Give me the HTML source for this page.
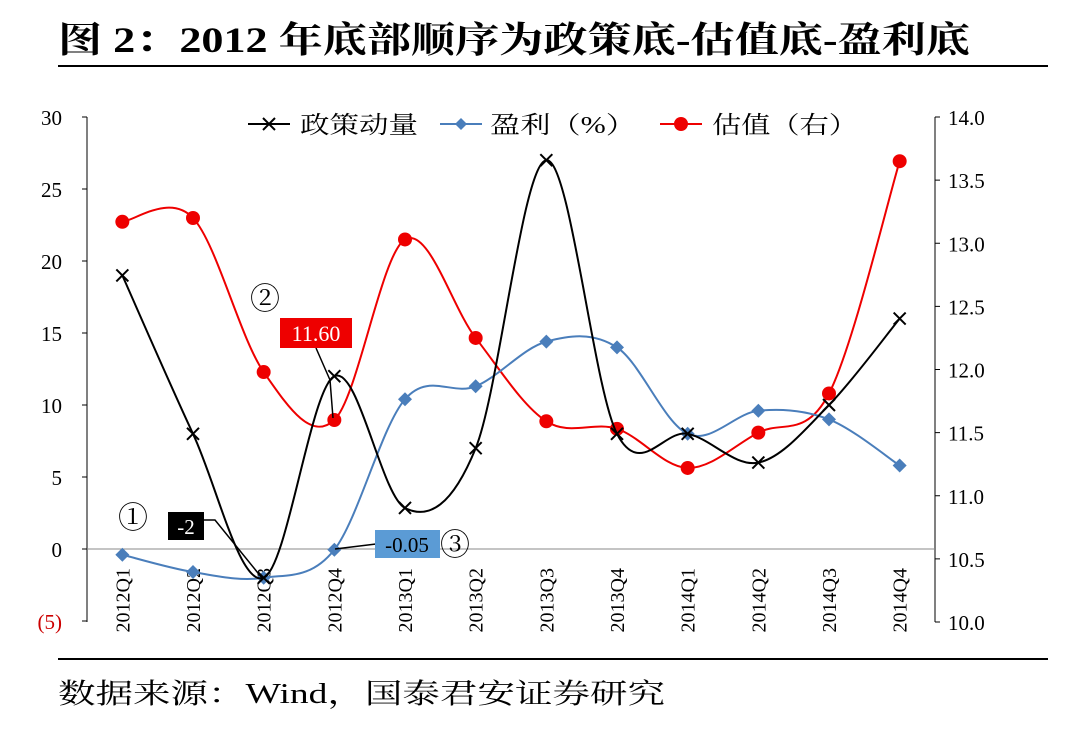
<!DOCTYPE html>
<html><head><meta charset="utf-8"><style>
body{margin:0;background:#fff;}
svg{display:block;font-family:"Liberation Serif","Noto Serif CJK SC",serif;}
</style></head><body>
<svg width="1080" height="737" viewBox="0 0 1080 737">
<text x="58" y="52" font-size="36" font-weight="bold" textLength="912" lengthAdjust="spacingAndGlyphs">图 2：2012 年底部顺序为政策底-估值底-盈利底</text>
<line x1="58" y1="66" x2="1048" y2="66" stroke="#000" stroke-width="2"/>
<line x1="58" y1="659" x2="1048" y2="659" stroke="#000" stroke-width="2"/>
<text x="58" y="703" font-size="28" textLength="607" lengthAdjust="spacingAndGlyphs">数据来源：Wind，国泰君安证券研究</text>
<g id="axes"></g>
<g id="series"></g>
<g>
<g><line x1="248" y1="124" x2="290" y2="124" stroke="#000" stroke-width="2"/><path d="M263 118l12 12M275 118l-12 12" stroke="#000" stroke-width="2"/><text x="300" y="133" font-size="24" textLength="118" lengthAdjust="spacingAndGlyphs">政策动量</text></g>
<g><line x1="440" y1="124" x2="482" y2="124" stroke="#4a7ebb" stroke-width="2"/><path d="M461 118l6 6-6 6-6-6z" fill="#4a7ebb"/><text x="490" y="133" font-size="24" textLength="146" lengthAdjust="spacingAndGlyphs">盈利（%）</text></g>
<g><line x1="660" y1="124" x2="702" y2="124" stroke="#e00" stroke-width="2"/><circle cx="681" cy="124" r="7" fill="#e00"/><text x="712" y="133" font-size="24" textLength="146" lengthAdjust="spacingAndGlyphs">估值（右）</text></g>
</g>
<g>
<text x="118" y="528" font-size="30">①</text>
<polyline points="204,520 215,520 262,578" fill="none" stroke="#000" stroke-width="1.5"/>
<rect x="168" y="512" width="36" height="28" fill="#000"/>
<text x="186" y="534" font-size="21" fill="#fff" text-anchor="middle">-2</text>
<text x="250" y="309" font-size="30">②</text>
<polyline points="316,348 330,380 333,418" fill="none" stroke="#000" stroke-width="1.5"/>
<rect x="280" y="318" width="72" height="30" fill="#e00"/>
<text x="316" y="341" font-size="22" fill="#fff" text-anchor="middle">11.60</text>
<line x1="335" y1="549" x2="376" y2="544" stroke="#000" stroke-width="1.5"/>
<rect x="375" y="530" width="65" height="28" fill="#5b9bd5"/>
<text x="407" y="552" font-size="21" fill="#000" text-anchor="middle">-0.05</text>
<text x="440" y="555" font-size="30">③</text>
</g>
</svg>
<script>
const categories=["2012Q1","2012Q2","2012Q3","2012Q4","2013Q1","2013Q2","2013Q3","2013Q4","2014Q1","2014Q2","2014Q3","2014Q4"];
const policyValues=[19,8,-2,12,2.85,7,27,8,8,6,10,16];
const profitValues=[-0.4,-1.6,-2,-0.05,10.4,11.3,14.4,14,8,9.6,9,5.8];
const valuationValues=[13.17,13.2,11.98,11.6,13.03,12.25,11.59,11.53,11.22,11.5,11.81,13.65];
const leftTicks=[30,25,20,15,10,5,0,-5];
const rightTicks=[14,13.5,13,12.5,12,11.5,11,10.5,10];
const NS="http://www.w3.org/2000/svg";
const X0=87,X1=935,n=categories.length,bw=(X1-X0)/n;
const x=i=>X0+bw*(i+0.5);
const yL=v=>549-v*14.4;
const yR=v=>117+(14-v)*126.25;
function mk(t,a,p){const e=document.createElementNS(NS,t);for(const k in a)e.setAttribute(k,a[k]);p.appendChild(e);return e;}
const ax=document.getElementById('axes'),se=document.getElementById('series');
let e=mk('line',{x1:X0,y1:117,x2:X0,y2:622,stroke:'#000'},ax);

e=mk('line',{x1:X1,y1:117,x2:X1,y2:622,stroke:'#000'},ax);

e=mk('line',{x1:X0,y1:yL(0),x2:X1,y2:yL(0),stroke:'#888'},ax);

leftTicks.forEach(v=>{const y=yL(v);mk('line',{x1:X0-5,y1:y,x2:X0,y2:y,stroke:'#000'},ax);
const t=mk('text',{x:62,y:y+8,'font-size':21,'text-anchor':'end',fill:v<0?'#c00':'#000'},ax);t.textContent=v<0?'('+(-v)+')':v;
});
rightTicks.forEach(v=>{const y=yR(v);mk('line',{x1:X1,y1:y,x2:X1+5,y2:y,stroke:'#000'},ax);
const t=mk('text',{x:948,y:y+8,'font-size':21},ax);t.textContent=v.toFixed(1);
});
categories.forEach((c,i)=>{const t=mk('text',{x:0,y:0,'font-size':20,'text-anchor':'end',transform:`translate(${x(i)+7},568) rotate(-90)`},ax);t.textContent=c;
});
function smooth(pts){let d=`M${pts[0][0]},${pts[0][1]}`;for(let i=0;i<pts.length-1;i++){const p0=pts[i-1]||pts[i],p1=pts[i],p2=pts[i+1],p3=pts[i+2]||p2;
d+=` C${p1[0]+(p2[0]-p0[0])/6},${p1[1]+(p2[1]-p0[1])/6} ${p2[0]-(p3[0]-p1[0])/6},${p2[1]-(p3[1]-p1[1])/6} ${p2[0]},${p2[1]}`;}return d;}
function series(vals,yf,color,marker,name){const pts=vals.map((v,i)=>[x(i),yf(v)]);
const p=mk('path',{d:smooth(pts),fill:'none',stroke:color,'stroke-width':2},se);

pts.forEach(([px,py])=>{let m;
if(marker==='x')m=mk('path',{d:`M${px-6},${py-6}l12,12M${px+6},${py-6}l-12,12`,stroke:color,'stroke-width':2},se);
else if(marker==='d')m=mk('path',{d:`M${px},${py-7}l7,7-7,7-7-7z`,fill:color},se);
else m=mk('circle',{cx:px,cy:py,r:7,fill:color},se);
});}
series(valuationValues,yR,'#e00','o','valuation');
series(profitValues,yL,'#4a7ebb','d','profit');
series(policyValues,yL,'#000','x','policy');
</script>
</body></html>
